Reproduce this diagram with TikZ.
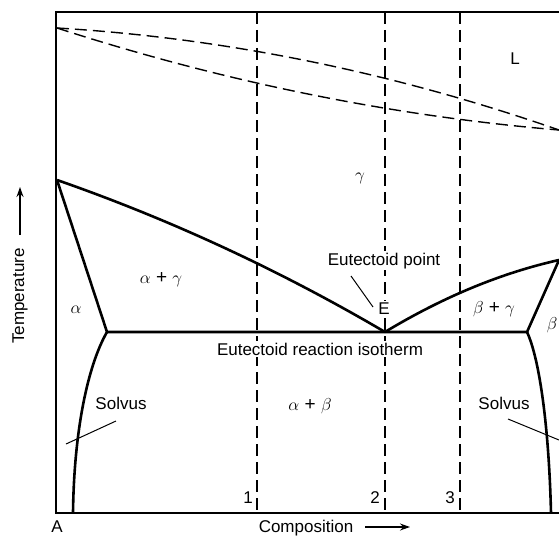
\documentclass[tikz,border=0pt]{standalone}
\usepackage{fontspec}
\setmainfont{Liberation Sans}
\usetikzlibrary{arrows.meta}
\tikzset{
  phase/.style={line width=2.6pt, line join=round},
  frame/.style={line width=1.2pt},
  guide/.style={line width=1.4pt, dash pattern=on 12pt off 6pt},
  leader/.style={line width=1pt},
  lbl/.style={font=\fontsize{17}{20}\selectfont, anchor=base, inner sep=0pt},
  region/.style={lbl, font=\fontsize{19}{22}\selectfont},
  blank/.style={lbl, fill=white, inner sep=1.5pt}
}
\begin{document}
\begin{tikzpicture}[x=1pt, y=-1pt]
  \useasboundingbox (0,0) rectangle (559,535);
  \coordinate (tl) at (56,12);
  \coordinate (tr) at (559,12);
  \coordinate (bl) at (56,513);
  \coordinate (br) at (559,513);
  \coordinate (mA) at (57,28);
  \coordinate (mB) at (559,130);
  \coordinate (tA) at (57,180);
  \coordinate (tB) at (559,260);
  \coordinate (E) at (385,332);
  \coordinate (va) at (107,332);
  \coordinate (vb) at (527,332);
  \coordinate (sa) at (73,513);
  \coordinate (sb) at (551,513);
  \draw[frame] (tr) -- (tl) -- (bl) -- (br);
  \foreach \x/\n in {257/1, 385/2, 460/3}
    \draw[guide] (\x,12) coordinate (c\n top) -- (\x,513) coordinate (c\n bot);
  \begin{scope}[guide]
    \draw (mA) .. controls (224,38) and (392,72) .. (mB);
    \draw (mA) .. controls (224,82) and (392,116) .. (mB);
  \end{scope}
  \begin{scope}[phase]
    \draw (tA) .. controls (166,218) and (276,268) .. (E);
    \draw (E) .. controls (443,297) and (501,273) .. (tB);
    \draw (tA) -- (va) -- (vb) -- (tB);
    \draw (va) .. controls (88,365) and (74,430) .. (sa);
    \draw (vb) .. controls (540,360) and (549,430) .. (sb);
  \end{scope}
  \draw
    (515,64) node[lbl] (liq){L}
    (360,180) node[region] (gam){$\gamma$}
    (161,283) node[region] (agam){$\alpha$ + $\gamma$}
    (76,313) node[region] (alf){$\alpha$}
    (494,313) node[region] (bgam){$\beta$ + $\gamma$}
    (552,329) node[region] (bet){$\beta$}
    (384,265) node[blank] (etpt){Eutectoid point}
    (384,314) node[blank] (elbl){E}
    (320,355) node[blank] (iso){Eutectoid reaction isotherm}
    (121,409) node[lbl] (solva){Solvus}
    (504,409) node[lbl] (solvb){Solvus}
    (310,410) node[region] (ab){$\alpha$ + $\beta$}
    (248,503) node[lbl] (n1){1}
    (375,503) node[lbl] (n2){2}
    (450,503) node[lbl] (n3){3}
    (57,532) node[lbl] (nA){A}
    (306,532) node[lbl] (comp){Composition}
    (20,296) node[lbl, anchor=center, rotate=90] (temp){Temperature};
  \begin{scope}[leader]
    \draw (351,276) -- (373,307);
    \draw (66,444) -- (116,421);
    \draw (508,419) -- (559,440);
  \end{scope}
  \draw[line width=1.4pt, -{Stealth[length=10pt, width=7pt]}] (365,527) -- (410,527);
  \draw[line width=1.4pt, -{Stealth[length=10pt, width=7pt]}] (20,235) -- (20,187);
\end{tikzpicture}
\end{document}
